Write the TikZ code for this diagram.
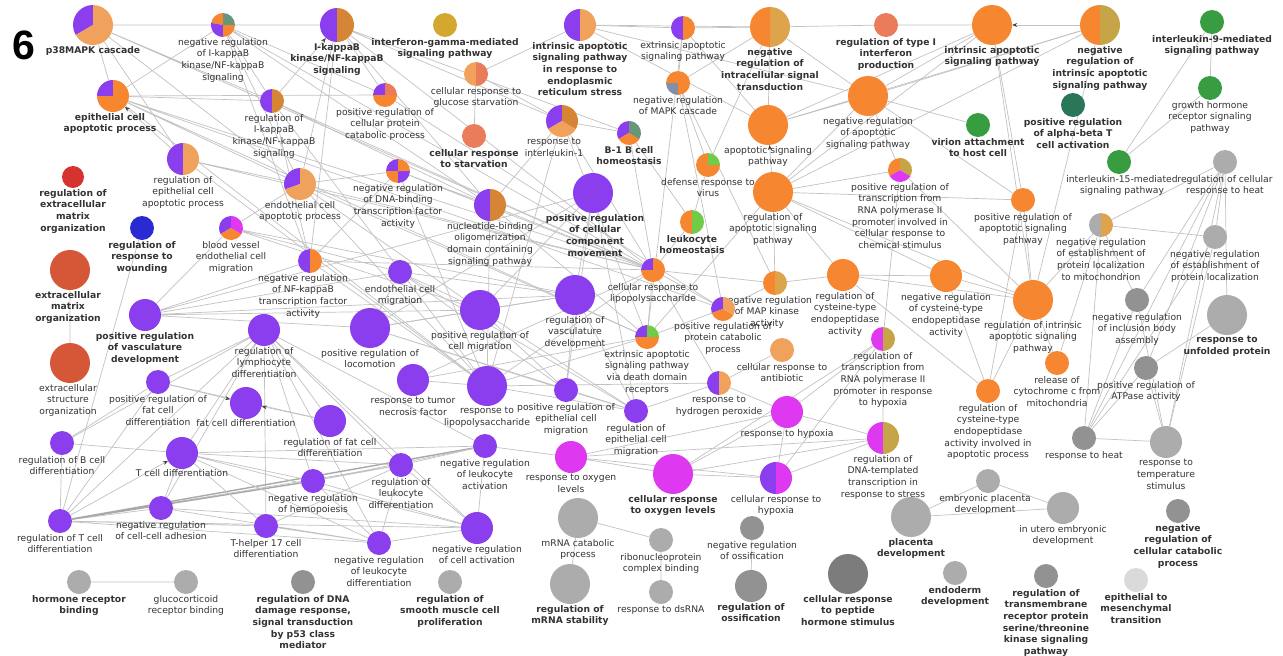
\documentclass[tikz,border=0pt]{standalone}
\usepackage{fontspec}
\setmainfont{DejaVu Sans}
\newfontfamily\numfont{Liberation Sans}
\usetikzlibrary{positioning,arrows.meta}

\definecolor{purp}{RGB}{138,62,238}
\definecolor{mag}{RGB}{222,56,240}
\definecolor{orng}{RGB}{246,134,48}
\definecolor{dorng}{RGB}{214,132,54}
\definecolor{lorng}{RGB}{240,162,92}
\definecolor{gotan}{RGB}{222,164,76}
\definecolor{goolive}{RGB}{198,164,72}
\definecolor{salm}{RGB}{234,124,92}
\definecolor{gold}{RGB}{212,168,46}
\definecolor{ggreen}{RGB}{56,156,64}
\definecolor{dteal}{RGB}{42,118,88}
\definecolor{lgreen}{RGB}{112,204,72}
\definecolor{gteal}{RGB}{104,150,120}
\definecolor{gblue}{RGB}{128,144,168}
\definecolor{gored}{RGB}{214,50,48}
\definecolor{rorng}{RGB}{214,86,56}
\definecolor{goblue}{RGB}{42,42,210}
\definecolor{gr0}{RGB}{218,218,218}
\definecolor{gr1}{RGB}{172,172,172}
\definecolor{gr2}{RGB}{146,146,146}
\definecolor{gr3}{RGB}{124,124,124}

\pgfdeclarelayer{background}
\pgfsetlayers{background,main}

\newcommand{\lbfont}{\fontsize{9.2}{11.6}\selectfont}
% pie slices, counterclockwise from 12 o'clock
\newcommand{\gopie}[3]{%
  \foreach \sa/\ea/\sc in {#3}{%
    \fill[\sc] (#1.center) -- ++(\sa:#2) arc[start angle=\sa,end angle=\ea,radius=#2] -- cycle;}}

\tikzset{
  go/.style={circle,inner sep=0pt,minimum size=#1},
  lbl/.style={align=center,inner sep=0pt,font=\lbfont,text=black!80},
  blbl/.style={lbl,font=\lbfont\bfseries},
  lnk/.style={draw=black!24,line width=0.7pt},
  hlnk/.style={draw=black!34,line width=1.4pt},
  arr/.style={lnk,-{Stealth[length=5pt,width=4pt,color=black!75]}},
}

\begin{document}
\begin{tikzpicture}[x=1pt,y=-1pt]
\begin{pgfonlayer}{background}
\fill[white] (0,0) rectangle (1283,656);
\end{pgfonlayer}
\useasboundingbox (0,0) rectangle (1283,656);

\node[font=\numfont\fontsize{41}{41}\selectfont\bfseries] (fig) at (24,45) {6};

% top row
\node[go=40pt] (p38) at (93,25) {};
\gopie{p38}{20pt}{90/210/purp,210/450/lorng}
\node[blbl,below=1pt of p38] (p38L) {p38MAPK cascade};
\node[go=24pt] (negikb) at (223,25) {};
\gopie{negikb}{12pt}{90/170/orng,170/270/purp,270/360/orng,360/450/gteal}
\node[lbl,below=1pt of negikb] (negikbL) {negative regulation\\of I-kappaB\\kinase/NF-kappaB\\signaling};
\node[go=34pt] (ikb) at (337,25) {};
\gopie{ikb}{17pt}{90/270/purp,270/450/dorng}
\node[blbl,below=1pt of ikb] (ikbL) {I-kappaB\\kinase/NF-kappaB\\signaling};
\node[go=24pt,fill=gold] (ifng) at (445,25) {};
\node[blbl,below=1pt of ifng] (ifngL) {interferon-gamma-mediated\\signaling pathway};
\node[go=32pt] (erstress) at (580,25) {};
\gopie{erstress}{16pt}{90/270/purp,270/450/lorng}
\node[blbl,below=1pt of erstress] (erstressL) {intrinsic apoptotic\\signaling pathway\\in response to\\endoplasmic\\reticulum stress};
\node[go=24pt] (extrap) at (683,28) {};
\gopie{extrap}{12pt}{90/270/purp,270/450/orng}
\node[lbl,below=1pt of extrap] (extrapL) {extrinsic apoptotic\\signaling pathway};
\node[go=40pt] (negintra) at (770,27) {};
\gopie{negintra}{20pt}{90/270/orng,270/450/gotan}
\node[blbl,below=1pt of negintra] (negintraL) {negative\\regulation of\\intracellular signal\\transduction};
\node[go=24pt,fill=salm] (typei) at (886,25) {};
\node[blbl,below=1pt of typei] (typeiL) {regulation of type I\\interferon\\production};
\node[go=40pt,fill=orng] (intrap) at (992,25) {};
\node[blbl,below=1pt of intrap] (intrapL) {intrinsic apoptotic\\signaling pathway};
\node[go=40pt] (negintrap) at (1100,25) {};
\gopie{negintrap}{20pt}{90/270/orng,270/450/goolive}
\node[blbl,below=1pt of negintrap] (negintrapL) {negative\\regulation of\\intrinsic apoptotic\\signaling pathway};
\node[go=24pt,fill=ggreen] (il9) at (1212,22) {};
\node[blbl,below=1pt of il9] (il9L) {interleukin-9-mediated\\signaling pathway};
\node[go=24pt,fill=ggreen] (gh) at (1210,88) {};
\node[lbl,below=1pt of gh] (ghL) {growth hormone\\receptor signaling\\pathway};

% second row
\node[go=32pt] (epiapop) at (113,96) {};
\gopie{epiapop}{16pt}{90/180/purp,180/450/orng}
\node[blbl,below=1pt of epiapop,xshift=-3pt] (epiapopL) {epithelial cell\\apoptotic process};
\node[go=24pt] (regikb) at (272,101) {};
\gopie{regikb}{12pt}{90/270/purp,270/450/dorng}
\node[lbl,below=1pt of regikb,xshift=2pt] (regikbL) {regulation of\\I-kappaB\\kinase/NF-kappaB\\signaling};
\node[go=24pt] (posprotcat) at (385,95) {};
\gopie{posprotcat}{12pt}{90/180/purp,180/360/orng,360/450/salm}
\node[lbl,below=1pt of posprotcat] (posprotcatL) {positive regulation of\\cellular protein\\catabolic process};
\node[go=24pt] (glucose) at (476,74) {};
\gopie{glucose}{12pt}{90/270/lorng,270/450/salm}
\node[lbl,below=1pt of glucose] (glucoseL) {cellular response to\\glucose starvation};
\node[go=24pt,fill=salm] (starv) at (474,136) {};
\node[blbl,below=1pt of starv] (starvL) {cellular response\\to starvation};
\node[go=32pt] (il1) at (562,121) {};
\gopie{il1}{16pt}{90/210/purp,210/330/lorng,330/450/dorng}
\node[lbl,below=1pt of il1,xshift=-8pt] (il1L) {response to\\interleukin-1};
\node[go=24pt] (b1b) at (629,133) {};
\gopie{b1b}{12pt}{90/210/purp,210/330/orng,330/450/gteal}
\node[blbl,below=1pt of b1b] (b1bL) {B-1 B cell\\homeostasis};
\node[go=24pt] (negmapk) at (678,83) {};
\gopie{negmapk}{12pt}{90/180/orng,180/270/gblue,270/450/orng}
\node[lbl,below=1pt of negmapk] (negmapkL) {negative regulation\\of MAPK cascade};
\node[go=40pt,fill=orng] (apopsig) at (768,125) {};
\node[lbl,below=1pt of apopsig] (apopsigL) {apoptotic signaling\\pathway};
\node[go=40pt,fill=orng] (negapopsig) at (868,96) {};
\node[lbl,below=1pt of negapopsig] (negapopsigL) {negative regulation\\of apoptotic\\signaling pathway};
\node[go=24pt,fill=ggreen] (virion) at (978,125) {};
\node[blbl,below=1pt of virion] (virionL) {virion attachment\\to host cell};
\node[go=24pt,fill=dteal] (alphabeta) at (1073,105) {};
\node[blbl,below=1pt of alphabeta] (alphabetaL) {positive regulation\\of alpha-beta T\\cell activation};
\node[go=24pt,fill=ggreen] (il15) at (1119,162) {};
\node[lbl,below=1pt of il15,xshift=3pt] (il15L) {interleukin-15-mediated\\signaling pathway};
\node[go=24pt,fill=gr1] (cellheat) at (1225,162) {};
\node[lbl,below=1pt of cellheat] (cellheatL) {regulation of cellular\\response to heat};

% left and middle
\node[go=22pt,fill=gored] (regecm) at (73,177) {};
\node[blbl,below=1pt of regecm] (regecmL) {regulation of\\extracellular\\matrix\\organization};
\node[go=32pt] (regepiapop) at (183,159) {};
\gopie{regepiapop}{16pt}{90/270/purp,270/450/lorng}
\node[lbl,below=1pt of regepiapop] (regepiapopL) {regulation of\\epithelial cell\\apoptotic process};
\node[go=32pt] (endoapop) at (300,184) {};
\gopie{endoapop}{16pt}{90/200/purp,200/450/lorng}
\node[lbl,below=1pt of endoapop] (endoapopL) {endothelial cell\\apoptotic process};
\node[go=24pt] (negdnabind) at (398,171) {};
\gopie{negdnabind}{12pt}{90/180/purp,180/270/orng,270/360/purp,360/450/orng}
\node[lbl,below=1pt of negdnabind] (negdnabindL) {negative regulation\\of DNA-binding\\transcription factor\\activity};
\node[go=32pt] (nod) at (490,205) {};
\gopie{nod}{16pt}{90/270/purp,270/450/dorng}
\node[lbl,below=1pt of nod] (nodL) {nucleotide-binding\\oligomerization\\domain containing\\signaling pathway};
\node[go=40pt,fill=purp] (poscomp) at (593,193) {};
\node[blbl,below=1pt of poscomp,xshift=2pt] (poscompL) {positive regulation\\of cellular\\component\\movement};
\node[go=24pt] (virus) at (708,165) {};
\gopie{virus}{12pt}{90/360/orng,360/450/lgreen}
\node[lbl,below=1pt of virus] (virusL) {defense response to\\virus};
\node[go=24pt] (leukhomeo) at (692,222) {};
\gopie{leukhomeo}{12pt}{90/270/orng,270/450/lgreen}
\node[blbl,below=1pt of leukhomeo] (leukhomeoL) {leukocyte\\homeostasis};
\node[go=40pt,fill=orng] (regapopsig) at (773,192) {};
\node[lbl,below=1pt of regapopsig] (regapopsigL) {regulation of\\apoptotic signaling\\pathway};
\node[go=24pt] (posrnachem) at (900,170) {};
\gopie{posrnachem}{12pt}{90/210/orng,210/330/mag,330/450/goolive}
\node[lbl,below=1pt of posrnachem] (posrnachemL) {positive regulation of\\transcription from\\RNA polymerase II\\promoter involved in\\cellular response to\\chemical stimulus};
\node[go=24pt,fill=orng] (posapopsig) at (1023,200) {};
\node[lbl,below=1pt of posapopsig] (posapopsigL) {positive regulation of\\apoptotic signaling\\pathway};
\node[go=24pt] (negmito) at (1101,225) {};
\gopie{negmito}{12pt}{90/270/gr1,270/450/gotan}
\node[lbl,below=1pt of negmito] (negmitoL) {negative regulation\\of establishment of\\protein localization\\to mitochondrion};
\node[go=24pt,fill=gr1] (negprotloc) at (1215,237) {};
\node[lbl,below=1pt of negprotloc] (negprotlocL) {negative regulation\\of establishment of\\protein localization};
\node[go=40pt,fill=gr1] (unfolded) at (1227,315) {};
\node[blbl,below=1pt of unfolded] (unfoldedL) {response to\\unfolded protein};
\node[go=24pt,fill=gr2] (inclusion) at (1137,300) {};
\node[lbl,below=1pt of inclusion] (inclusionL) {negative regulation\\of inclusion body\\assembly};
\node[go=40pt,fill=orng] (regintrap) at (1033,300) {};
\node[lbl,below=1pt of regintrap] (regintrapL) {regulation of intrinsic\\apoptotic signaling\\pathway};
\node[go=24pt,fill=orng] (cytc) at (1057,363) {};
\node[lbl,below=1pt of cytc] (cytcL) {release of\\cytochrome c from\\mitochondria};
\node[go=24pt,fill=gr2] (atpase) at (1146,368) {};
\node[lbl,below=1pt of atpase] (atpaseL) {positive regulation of\\ATPase activity};
\node[go=24pt,fill=orng] (cysapop) at (988,391) {};
\node[lbl,below=1pt of cysapop] (cysapopL) {regulation of\\cysteine-type\\endopeptidase\\activity involved in\\apoptotic process};
\node[go=24pt,fill=gr2] (respheat) at (1084,438) {};
\node[lbl,below=1pt of respheat] (respheatL) {response to heat};
\node[go=32pt,fill=gr1] (tempstim) at (1166,442) {};
\node[lbl,below=1pt of tempstim] (tempstimL) {response to\\temperature\\stimulus};

\node[go=24pt,fill=goblue] (wound) at (142,228) {};
\node[blbl,below=1pt of wound] (woundL) {regulation of\\response to\\wounding};
\node[go=24pt] (bloodv) at (231,228) {};
\gopie{bloodv}{12pt}{90/210/purp,210/330/orng,330/450/mag}
\node[lbl,below=1pt of bloodv] (bloodvL) {blood vessel\\endothelial cell\\migration};
\node[go=24pt] (negnfkb) at (310,261) {};
\gopie{negnfkb}{12pt}{90/270/purp,270/450/orng}
\node[lbl,below=1pt of negnfkb,xshift=-7pt] (negnfkbL) {negative regulation\\of NF-kappaB\\transcription factor\\activity};
\node[go=40pt,fill=rorng] (ecm) at (70,270) {};
\node[blbl,below=1pt of ecm,xshift=-2pt] (ecmL) {extracellular\\matrix\\organization};
\node[go=40pt,fill=rorng] (ecs) at (70,363) {};
\node[lbl,below=1pt of ecs,xshift=-2pt] (ecsL) {extracellular\\structure\\organization};
\node[go=32pt,fill=purp] (posvasc) at (145,315) {};
\node[blbl,below=1pt of posvasc] (posvascL) {positive regulation\\of vasculature\\development};
\node[go=32pt,fill=purp] (reglymph) at (264,330) {};
\node[lbl,below=1pt of reglymph] (reglymphL) {regulation of\\lymphocyte\\differentiation};
\node[go=24pt,fill=purp] (endomig) at (400,272) {};
\node[lbl,below=1pt of endomig] (endomigL) {endothelial cell\\migration};
\node[go=40pt,fill=purp] (poscellmig) at (480,310) {};
\node[lbl,below=1pt of poscellmig] (poscellmigL) {positive regulation of\\cell migration};
\node[go=40pt,fill=purp] (posloco) at (370,328) {};
\node[lbl,below=1pt of posloco] (poslocoL) {positive regulation of\\locomotion};
\node[go=40pt,fill=purp] (regvasc) at (575,295) {};
\node[lbl,below=1pt of regvasc] (regvascL) {regulation of\\vasculature\\development};
\node[go=24pt] (celllps) at (653,270) {};
\gopie{celllps}{12pt}{90/180/purp,180/450/orng}
\node[lbl,below=1pt of celllps] (celllpsL) {cellular response to\\lipopolysaccharide};
\node[go=24pt] (negmapkin) at (775,283) {};
\gopie{negmapkin}{12pt}{90/270/orng,270/450/gotan}
\node[lbl,below=1pt of negmapkin,xshift=-8pt] (negmapkinL) {negative regulation\\of MAP kinase\\activity};
\node[go=24pt] (posprotcat2) at (723,309) {};
\gopie{posprotcat2}{12pt}{90/200/purp,200/330/orng,330/450/lorng}
\node[lbl,below=1pt of posprotcat2] (posprotcat2L) {positive regulation of\\protein catabolic\\process};
\node[go=24pt] (extradd) at (647,337) {};
\gopie{extradd}{12pt}{90/180/purp,180/360/orng,360/450/lgreen}
\node[lbl,below=1pt of extradd] (extraddL) {extrinsic apoptotic\\signaling pathway\\via death domain\\receptors};
\node[go=32pt,fill=orng] (regcys) at (843,275) {};
\node[lbl,below=1pt of regcys,xshift=2pt] (regcysL) {regulation of\\cysteine-type\\endopeptidase\\activity};
\node[go=32pt,fill=orng] (negcys) at (946,276) {};
\node[lbl,below=1pt of negcys] (negcysL) {negative regulation\\of cysteine-type\\endopeptidase\\activity};
\node[go=24pt] (rnahyp) at (883,339) {};
\gopie{rnahyp}{12pt}{90/270/mag,270/450/goolive}
\node[lbl,below=1pt of rnahyp] (rnahypL) {regulation of\\transcription from\\RNA polymerase II\\promoter in response\\to hypoxia};
\node[go=24pt,fill=lorng] (antib) at (782,350) {};
\node[lbl,below=1pt of antib] (antibL) {cellular response to\\antibiotic};
\node[go=24pt] (h2o2) at (719,383) {};
\gopie{h2o2}{12pt}{90/270/purp,270/450/lorng}
\node[lbl,below=1pt of h2o2] (h2o2L) {response to\\hydrogen peroxide};
\node[go=32pt,fill=mag] (hypoxia) at (787,412) {};
\node[lbl,below=1pt of hypoxia] (hypoxiaL) {response to hypoxia};
\node[go=32pt] (dnatempl) at (883,438) {};
\gopie{dnatempl}{16pt}{90/270/mag,270/450/goolive}
\node[lbl,below=1pt of dnatempl] (dnatemplL) {regulation of\\DNA-templated\\transcription in\\response to stress};

% lymphocyte part
\node[go=24pt,fill=purp] (posfat) at (158,382) {};
\node[lbl,below=1pt of posfat] (posfatL) {positive regulation of\\fat cell\\differentiation};
\node[go=32pt,fill=purp] (fatdiff) at (246,403) {};
\node[lbl,below=0pt of fatdiff] (fatdiffL) {fat cell differentiation};
\node[go=32pt,fill=purp] (regfat) at (330,421) {};
\node[lbl,below=1pt of regfat] (regfatL) {regulation of fat cell\\differentiation};
\node[go=32pt,fill=purp] (tnf) at (413,380) {};
\node[lbl,below=1pt of tnf] (tnfL) {response to tumor\\necrosis factor};
\node[go=40pt,fill=purp] (lps) at (487,386) {};
\node[lbl,below=1pt of lps] (lpsL) {response to\\lipopolysaccharide};
\node[go=24pt,fill=purp] (posepimig) at (566,390) {};
\node[lbl,below=1pt of posepimig] (posepimigL) {positive regulation of\\epithelial cell\\migration};
\node[go=24pt,fill=purp] (regepimig) at (636,411) {};
\node[lbl,below=1pt of regepimig] (regepimigL) {regulation of\\epithelial cell\\migration};
\node[go=24pt,fill=purp] (regb) at (62,443) {};
\node[lbl,below=1pt of regb] (regbL) {regulation of B cell\\differentiation};
\node[go=32pt,fill=purp] (tdiff) at (182,453) {};
\node[lbl,below=0pt of tdiff] (tdiffL) {T cell differentiation};
\node[go=24pt,fill=purp] (neghemo) at (313,481) {};
\node[lbl,below=1pt of neghemo] (neghemoL) {negative regulation\\of hemopoiesis};
\node[go=24pt,fill=purp] (regleukdiff) at (401,465) {};
\node[lbl,below=1pt of regleukdiff] (regleukdiffL) {regulation of\\leukocyte\\differentiation};
\node[go=24pt,fill=purp] (negleukact) at (485,446) {};
\node[lbl,below=1pt of negleukact] (negleukactL) {negative regulation\\of leukocyte\\activation};
\node[go=24pt,fill=purp] (regt) at (60,521) {};
\node[lbl,below=1pt of regt] (regtL) {regulation of T cell\\differentiation};
\node[go=24pt,fill=purp] (negadh) at (161,508) {};
\node[lbl,below=1pt of negadh] (negadhL) {negative regulation\\of cell-cell adhesion};
\node[go=24pt,fill=purp] (th17) at (266,526) {};
\node[lbl,below=1pt of th17] (th17L) {T-helper 17 cell\\differentiation};
\node[go=24pt,fill=purp] (negleukdiff) at (379,543) {};
\node[lbl,below=1pt of negleukdiff] (negleukdiffL) {negative regulation\\of leukocyte\\differentiation};
\node[go=32pt,fill=purp] (negcellact) at (477,528) {};
\node[lbl,below=1pt of negcellact] (negcellactL) {negative regulation\\of cell activation};
\node[go=32pt,fill=mag] (o2) at (571,457) {};
\node[lbl,below=1pt of o2] (o2L) {response to oxygen\\levels};
\node[go=40pt,fill=mag] (cello2) at (673,474) {};
\node[blbl,below=1pt of cello2] (cello2L) {cellular response\\to oxygen levels};
\node[go=32pt] (cellhyp) at (776,478) {};
\gopie{cellhyp}{16pt}{90/270/purp,270/450/mag}
\node[lbl,below=1pt of cellhyp] (cellhypL) {cellular response to\\hypoxia};

% gray bottom
\node[go=40pt,fill=gr1] (mrnacat) at (578,518) {};
\node[lbl,below=1pt of mrnacat] (mrnacatL) {mRNA catabolic\\process};
\node[go=24pt,fill=gr1] (ribo) at (661,540) {};
\node[lbl,below=1pt of ribo] (riboL) {ribonucleoprotein\\complex binding};
\node[go=24pt,fill=gr2] (negoss) at (752,528) {};
\node[lbl,below=1pt of negoss] (negossL) {negative regulation\\of ossification};
\node[go=24pt,fill=gr1] (dsrna) at (661,592) {};
\node[lbl,below=1pt of dsrna] (dsrnaL) {response to dsRNA};
\node[go=32pt,fill=gr2] (regoss) at (751,586) {};
\node[blbl,below=1pt of regoss] (regossL) {regulation of\\ossification};
\node[go=40pt,fill=gr1] (mrnastab) at (570,584) {};
\node[blbl,below=1pt of mrnastab] (mrnastabL) {regulation of\\mRNA stability};
\node[go=24pt,fill=gr1] (smooth) at (450,582) {};
\node[blbl,below=1pt of smooth] (smoothL) {regulation of\\smooth muscle cell\\proliferation};
\node[go=24pt,fill=gr2] (p53) at (303,582) {};
\node[blbl,below=1pt of p53] (p53L) {regulation of DNA\\damage response,\\signal transduction\\by p53 class\\mediator};
\node[go=24pt,fill=gr1] (hormone) at (79,582) {};
\node[blbl,below=1pt of hormone] (hormoneL) {hormone receptor\\binding};
\node[go=24pt,fill=gr1] (gluco) at (186,582) {};
\node[lbl,below=1pt of gluco] (glucoL) {glucocorticoid\\receptor binding};
\node[go=40pt,fill=gr3] (peptide) at (848,574) {};
\node[blbl,below=1pt of peptide] (peptideL) {cellular response\\to peptide\\hormone stimulus};
\node[go=40pt,fill=gr1] (placenta) at (911,517) {};
\node[blbl,below=1pt of placenta] (placentaL) {placenta\\development};
\node[go=24pt,fill=gr1] (embplac) at (988,481) {};
\node[lbl,below=1pt of embplac,xshift=-3pt] (embplacL) {embryonic placenta\\development};
\node[go=32pt,fill=gr1] (inutero) at (1063,508) {};
\node[lbl,below=1pt of inutero] (inuteroL) {in utero embryonic\\development};
\node[go=24pt,fill=gr2] (negcatab) at (1178,511) {};
\node[blbl,below=1pt of negcatab] (negcatabL) {negative\\regulation of\\cellular catabolic\\process};
\node[go=24pt,fill=gr1] (endoderm) at (955,573) {};
\node[blbl,below=1pt of endoderm] (endodermL) {endoderm\\development};
\node[go=24pt,fill=gr2] (tmrecep) at (1046,576) {};
\node[blbl,below=1pt of tmrecep] (tmrecepL) {regulation of\\transmembrane\\receptor protein\\serine/threonine\\kinase signaling\\pathway};
\node[go=24pt,fill=gr0] (emt) at (1136,580) {};
\node[blbl,below=1pt of emt] (emtL) {epithelial to\\mesenchymal\\transition};

\begin{pgfonlayer}{background}
% upper left
\draw[lnk] (p38) -- (negikb) (p38) -- (epiapop) (p38) -- (regepiapop) (p38) -- (endoapop) (p38) -- (celllps) (p38) -- (regikb);
\draw[lnk] (negikb) -- (ikb) (negikb) -- (regikb) (negikb) -- (epiapop) (negikb) -- (negnfkb) (negikb) -- (nod) (negikb) -- (celllps) (negikb) -- (posprotcat) (negikb) -- (endoapop);
\draw[lnk] (ikb) -- (nod) (ikb) -- (negnfkb) (ikb) -- (il1) (ikb) -- (b1b) (ikb) -- (endoapop) (ikb) -- (celllps) (ikb) -- (posprotcat);
\draw[lnk] (regikb) -- (nod) (regikb) -- (negnfkb) (regikb) -- (celllps) (regikb) -- (epiapop) (regikb) -- (lps);
\draw[lnk] (epiapop) -- (endoapop) (epiapop) -- (celllps) (epiapop) -- (extradd) (epiapop) -- (posprotcat) (epiapop) -- (lps) (epiapop) -- (posprotcat2);
\draw[lnk] (regepiapop) -- (endoapop) (regepiapop) -- (celllps) (regepiapop) -- (lps);
\draw[lnk] (endoapop) -- (negdnabind) (endoapop) -- (celllps) (endoapop) -- (lps) (endoapop) -- (poscellmig) (endoapop) -- (bloodv) (endoapop) -- (extradd);
\draw[lnk] (negdnabind) -- (negnfkb) (negdnabind) -- (nod) (negdnabind) -- (celllps) (negdnabind) -- (lps);
\draw[lnk] (posprotcat) -- (posprotcat2) (glucose) -- (starv) (glucose) -- (erstress) (glucose) -- (il1);
\draw[lnk] (il1) -- (celllps) (il1) -- (lps) (il1) -- (b1b) (il1) -- (extradd) (b1b) -- (leukhomeo) (b1b) -- (celllps);
\draw[lnk] (nod) -- (celllps) (nod) -- (il1) (nod) -- (lps) (nod) -- (extradd) (negnfkb) -- (celllps) (negnfkb) -- (lps);
\draw[lnk] (tnf) -- (celllps) (tnf) -- (lps) (tnf) -- (extradd) (lps) -- (celllps) (lps) -- (extradd) (lps) -- (h2o2) (lps) -- (regepimig);
\draw[lnk] (celllps) -- (extradd) (celllps) -- (negmapkin) (celllps) -- (leukhomeo) (celllps) -- (posprotcat2) (celllps) -- (h2o2);
\draw[lnk] (negmapk) -- (negmapkin) (negmapk) -- (virus) (negmapk) -- (negintra) (negmapk) -- (posprotcat2) (negmapk) -- (extrap);
\draw[lnk] (extrap) -- (erstress) (extrap) -- (negintra) (extrap) -- (apopsig) (extrap) -- (extradd);
\draw[lnk] (erstress) -- (negintra) (erstress) -- (apopsig) (erstress) -- (negapopsig);
\draw[lnk] (negintra) -- (typei) (typei) -- (intrap) (virus) -- (leukhomeo) (virus) -- (negintra) (posprotcat2) -- (negmapkin) (posprotcat2) -- (extradd);
% apoptosis
\draw[lnk] (apopsig) -- (negapopsig) (apopsig) -- (negintra) (apopsig) -- (intrap) (apopsig) -- (negintrap);
\draw[lnk] (negapopsig) -- (intrap) (negapopsig) -- (negintrap) (negapopsig) -- (regapopsig) (negapopsig) -- (negintra) (negapopsig) -- (posapopsig) (negapopsig) -- (virion);
\draw[lnk] (regapopsig) -- (posapopsig) (regapopsig) -- (regintrap) (regapopsig) -- (intrap) (regapopsig) -- (negintrap) (regapopsig) -- (regcys) (regapopsig) -- (negcys) (regapopsig) -- (negmapkin) (regapopsig) -- (extradd);
\draw[lnk] (regcys) -- (negcys) (regcys) -- (cysapop) (regcys) -- (regintrap) (regcys) -- (negmapkin) (negcys) -- (cysapop) (negcys) -- (regintrap);
\draw[lnk] (posapopsig) -- (intrap) (posapopsig) -- (regintrap) (posapopsig) -- (cysapop);
\draw[lnk] (regintrap) -- (negintrap) (regintrap) -- (intrap) (regintrap) -- (negmito) (regintrap) -- (cytc) (regintrap) -- (cysapop) (negmito) -- (cytc);
\draw[lnk] (posrnachem) -- (negapopsig) (posrnachem) -- (regapopsig) (posrnachem) -- (rnahyp) (posrnachem) -- (regintrap);
% stress
\draw[lnk] (cellheat) -- (respheat) (cellheat) -- (tempstim) (cellheat) -- (unfolded) (cellheat) -- (negmito) (cellheat) -- (inclusion) (cellheat) -- (atpase) (cellheat) -- (negprotloc);
\draw[lnk] (negprotloc) -- (negmito) (negprotloc) -- (respheat) (negprotloc) -- (tempstim) (inclusion) -- (respheat) (inclusion) -- (negmito) (inclusion) -- (tempstim);
\draw[lnk] (atpase) -- (respheat) (atpase) -- (tempstim) (atpase) -- (unfolded) (respheat) -- (tempstim) (negmito) -- (respheat);
\draw[lnk] (il15) -- (il9) (il15) -- (gh) (il9) -- (gh);
% vasculature
\draw[lnk] (posvasc) -- (bloodv) (posvasc) -- (poscellmig) (posvasc) -- (posloco) (posvasc) -- (regvasc) (posvasc) -- (endomig) (posvasc) -- (negnfkb) (posvasc) -- (poscomp);
\draw[lnk] (bloodv) -- (endomig) (bloodv) -- (poscellmig) (bloodv) -- (regvasc);
\draw[lnk] (endomig) -- (poscellmig) (endomig) -- (posloco) (endomig) -- (regvasc) (endomig) -- (regepimig) (endomig) -- (posepimig);
\draw[lnk] (poscellmig) -- (posloco) (poscellmig) -- (poscomp) (poscellmig) -- (regepimig) (poscellmig) -- (posepimig) (poscellmig) -- (regvasc);
\draw[lnk] (posloco) -- (poscomp) (posloco) -- (regepimig) (posloco) -- (posepimig) (posloco) -- (regvasc);
\draw[lnk] (regvasc) -- (poscomp) (regvasc) -- (posepimig) (regvasc) -- (regepimig) (posepimig) -- (regepimig) (poscomp) -- (regepimig) (poscomp) -- (posepimig);
\draw[lnk] (regepimig) -- (h2o2) (wound) -- (regt) (ecm) -- (ecs);
% lymphocytes
\draw[lnk] (reglymph) -- (tdiff) (reglymph) -- (posfat) (reglymph) -- (regb) (reglymph) -- (regt) (reglymph) -- (neghemo) (reglymph) -- (regleukdiff) (reglymph) -- (negleukdiff) (reglymph) -- (th17) (reglymph) -- (negadh) (reglymph) -- (regfat) (reglymph) -- (negleukact) (reglymph) -- (negcellact);
\draw[lnk] (posfat) -- (regfat) (posfat) -- (regb) (posfat) -- (regt) (regb) -- (regt) (regb) -- (tdiff);
\draw[lnk] (regt) -- (negadh) (regt) -- (regleukdiff) (regt) -- (th17) (regt) -- (negleukdiff) (regt) -- (negcellact);
\draw[hlnk] (regt) -- (neghemo) (regt) -- (negleukact);
\draw[lnk] (tdiff) -- (negadh) (tdiff) -- (th17) (tdiff) -- (neghemo) (tdiff) -- (regleukdiff) (tdiff) -- (negleukdiff) (tdiff) -- (negleukact) (tdiff) -- (negcellact);
\draw[lnk] (neghemo) -- (negleukdiff) (neghemo) -- (negcellact) (neghemo) -- (regleukdiff) (neghemo) -- (negleukact);
\draw[lnk] (regleukdiff) -- (negleukdiff) (regleukdiff) -- (negleukact) (regleukdiff) -- (negcellact) (negleukact) -- (negcellact) (negleukact) -- (o2);
\draw[lnk] (negleukdiff) -- (negcellact) (negadh) -- (negcellact) (negadh) -- (negleukdiff) (th17) -- (regleukdiff) (th17) -- (negleukdiff);
% hypoxia
\draw[lnk] (o2) -- (hypoxia) (o2) -- (cello2) (o2) -- (cellhyp) (o2) -- (dnatempl);
\draw[lnk] (cello2) -- (hypoxia) (cello2) -- (cellhyp) (cello2) -- (dnatempl) (cello2) -- (rnahyp);
\draw[lnk] (hypoxia) -- (cellhyp) (hypoxia) -- (rnahyp) (hypoxia) -- (dnatempl) (hypoxia) -- (h2o2) (cellhyp) -- (dnatempl) (cellhyp) -- (rnahyp) (rnahyp) -- (dnatempl) (antib) -- (h2o2);
% gray pairs
\draw[lnk] (mrnacat) -- (mrnastab) (mrnacat) -- (ribo) (ribo) -- (dsrna) (negoss) -- (regoss) (hormone) -- (gluco);
\draw[lnk] (placenta) -- (embplac) (placenta) -- (inutero) (embplac) -- (inutero);
% directed
\draw[arr] (regikb) -- (ikb);
\draw[arr] (regepiapop) -- (epiapop);
\draw[arr] (regapopsig) -- (apopsig);
\draw[arr] (negintrap) -- (intrap);
\draw[arr] (regfat) -- (fatdiff);
\draw[arr] (posfat) -- (fatdiff);
\draw[arr] (regt) -- (tdiff);
\end{pgfonlayer}
\end{tikzpicture}
\end{document}
